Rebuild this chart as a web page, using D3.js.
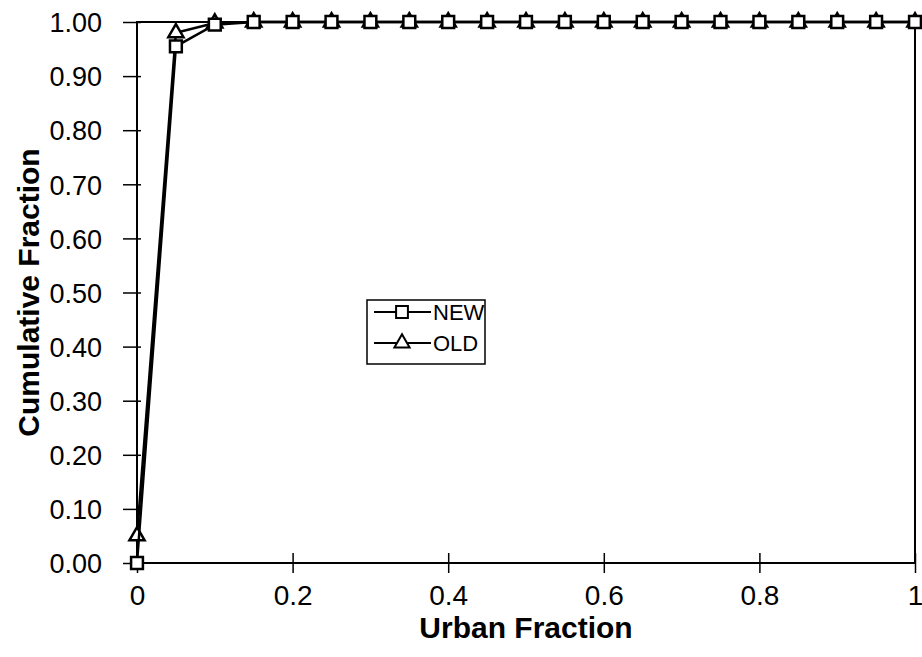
<!DOCTYPE html>
<html><head><meta charset="utf-8">
<script src="https://cdn.jsdelivr.net/npm/d3@7"></script>
<style>body{margin:0;background:#fff}svg{display:block}</style>
</head><body>
<svg id="c" width="922" height="657"></svg>
<script>
const xValues = [0,0.05,0.10,0.15,0.20,0.25,0.30,0.35,0.40,0.45,0.50,0.55,0.60,0.65,0.70,0.75,0.80,0.85,0.90,0.95,1.00];
const newValues = [0.00,0.955,0.995,1,1,1,1,1,1,1,1,1,1,1,1,1,1,1,1,1,1];
const oldValues = [0.05,0.98,0.998,1,1,1,1,1,1,1,1,1,1,1,1,1,1,1,1,1,1];
const seriesNames = ["NEW","OLD"];
const xTicks = [0,0.2,0.4,0.6,0.8,1];
const yTicks = [0,0.1,0.2,0.3,0.4,0.5,0.6,0.7,0.8,0.9,1.0];
const xTitle = "Urban Fraction";
const yTitle = "Cumulative Fraction";

const svg = d3.select("#c");
const font = "'Liberation Sans', Arial, sans-serif";
const x = d3.scaleLinear().domain([0,1]).range([137,915]);
const y = d3.scaleLinear().domain([0,1]).range([563,22]);

// plot border
svg.append("rect").attr("x",x(0)).attr("y",y(1)).attr("width",x(1)-x(0)).attr("height",y(0)-y(1))
  .attr("fill","none").attr("stroke","#000").attr("stroke-width",2);

// y axis
const yAxis = svg.append("g").attr("transform",`translate(${x(0)},0)`)
  .call(d3.axisLeft(y).tickValues(yTicks).tickFormat(d3.format(".2f")).tickSize(0).tickPadding(0));
yAxis.select(".domain").remove();
yAxis.selectAll(".tick line").attr("x1",-14).attr("x2",4).attr("stroke","#000").attr("stroke-width",1.5);
yAxis.selectAll(".tick text").attr("x",-35).attr("font-family",font).attr("font-size",27).attr("fill","#000").attr("dy","0.36em");

// x axis
const xAxis = svg.append("g").attr("transform",`translate(0,${y(0)})`)
  .call(d3.axisBottom(x).tickValues(xTicks).tickFormat(d=>d===0||d===1?String(d):d3.format(".1f")(d)).tickSize(0).tickPadding(0));
xAxis.select(".domain").remove();
xAxis.selectAll(".tick line").attr("y1",-10).attr("y2",10).attr("stroke","#000").attr("stroke-width",1.5);
xAxis.selectAll(".tick text").attr("y",22).attr("font-family",font).attr("font-size",28).attr("fill","#000").attr("dy","0.71em");

// titles
svg.append("text").attr("x",(x(0)+x(1))/2).attr("y",627).attr("text-anchor","middle")
  .attr("font-family",font).attr("font-weight","bold").attr("font-size",30).attr("dy","0.36em").text(xTitle);
svg.append("text").attr("transform",`translate(28,${(y(0)+y(1))/2}) rotate(-90)`).attr("text-anchor","middle")
  .attr("font-family",font).attr("font-weight","bold").attr("font-size",30).attr("dy","0.36em").text(yTitle);

const line = d3.line().x(d=>x(d[0])).y(d=>y(d[1]));
const newPts = xValues.map((v,i)=>[v,newValues[i]]);
const oldPts = xValues.map((v,i)=>[v,oldValues[i]]);
const sq = d3.symbol().type(d3.symbolSquare).size(140);
const tri = d3.symbol().type(d3.symbolTriangle).size(100);

function drawSeries(pts, sym){
  svg.append("path").datum(pts).attr("d",line).attr("fill","none").attr("stroke","#000").attr("stroke-width",2.5);
  svg.append("g").selectAll("path").data(pts).join("path")
    .attr("transform",d=>`translate(${x(d[0])},${y(d[1])})`).attr("d",sym)
    .attr("fill","#fff").attr("stroke","#000").attr("stroke-width",2.5);
}
drawSeries(oldPts, tri);
drawSeries(newPts, sq);

// legend
const lg = svg.append("g");
lg.append("rect").attr("x",367).attr("y",300).attr("width",118).attr("height",64)
  .attr("fill","#fff").attr("stroke","#000").attr("stroke-width",1.5);
[[seriesNames[0],sq,312],[seriesNames[1],tri,343]].forEach(([name,sym,yy])=>{
  lg.append("line").attr("x1",374).attr("x2",431).attr("y1",yy).attr("y2",yy).attr("stroke","#000").attr("stroke-width",2);
  lg.append("path").attr("transform",`translate(402,${yy})`).attr("d",sym).attr("fill","#fff").attr("stroke","#000").attr("stroke-width",2);
  lg.append("text").attr("x",433).attr("y",yy).attr("dy","0.36em").attr("font-family",font).attr("font-size",22).text(name);
});
</script>
</body></html>
